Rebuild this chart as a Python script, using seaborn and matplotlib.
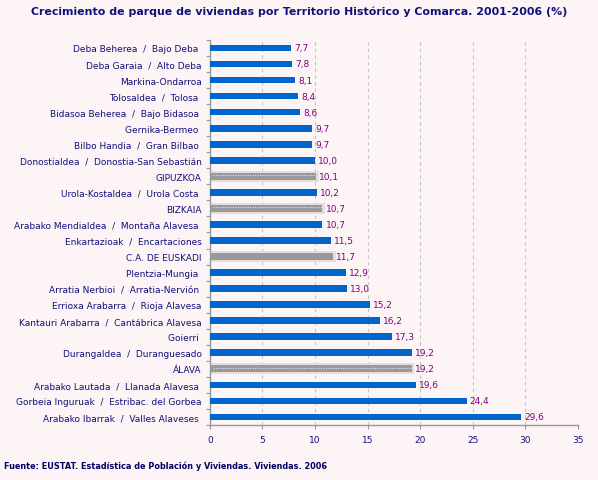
import numpy as np
import pandas as pd
import matplotlib
matplotlib.use('Agg')
import matplotlib.pyplot as plt
import seaborn as sns

# Data (top to bottom as in the chart)
labels = [
    'Deba Beherea  /  Bajo Deba ', 'Deba Garaia  /  Alto Deba', 'Markina-Ondarroa',
    'Tolosaldea  /  Tolosa ', 'Bidasoa Beherea  /  Bajo Bidasoa ', 'Gernika-Bermeo ',
    'Bilbo Handia  /  Gran Bilbao ', 'Donostialdea  /  Donostia-San Sebastián', 'GIPUZKOA',
    'Urola-Kostaldea  /  Urola Costa ', 'BIZKAIA', 'Arabako Mendialdea  /  Montaña Alavesa ',
    'Enkartazioak  /  Encartaciones', 'C.A. DE EUSKADI', 'Plentzia-Mungia ',
    'Arratia Nerbioi  /  Arratia-Nervión ', 'Errioxa Arabarra  /  Rioja Alavesa',
    'Kantauri Arabarra  /  Cantábrica Alavesa', 'Goierri ', 'Durangaldea  /  Duranguesado',
    'ÁLAVA', 'Arabako Lautada  /  Llanada Alavesa ', 'Gorbeia Inguruak  /  Estribac. del Gorbea',
    'Arabako Ibarrak  /  Valles Alaveses ',
]
values = [7.7, 7.8, 8.1, 8.4, 8.6, 9.7, 9.7, 10.0, 10.1, 10.2, 10.7, 10.7, 11.5, 11.7,
          12.9, 13.0, 15.2, 16.2, 17.3, 19.2, 19.2, 19.6, 24.4, 29.6]
territorios = ['GIPUZKOA', 'BIZKAIA', 'ÁLAVA']
total = ['C.A. DE EUSKADI']
x_ticks = [0, 5, 10, 15, 20, 25, 30, 35]

df = pd.DataFrame({'label': labels, 'value': values})
df['kind'] = np.where(df['label'].isin(territorios + total), 'total', 'comarca')
df['halo'] = np.where(df['kind'] == 'total', df['value'] + 0.25, np.nan)

navy = '#10107a'
purple = '#800080'
bg = '#fdf5f5'

fig = plt.figure(figsize=(5.98, 4.81), dpi=100, facecolor=bg)
ax = fig.add_axes([0.351, 0.1143, 0.6156, 0.8007])
ax.set_facecolor(bg)

# light halo behind gray summary bars
sns.barplot(data=df, x='halo', y='label', color='#e2dede', width=0.68, ax=ax,
            orient='h', saturation=1, zorder=2)
sns.barplot(data=df, x='value', y='label', hue='kind', dodge=False, width=0.42,
            palette={'comarca': '#0066cc', 'total': '#999999'}, ax=ax,
            orient='h', legend=False, saturation=1, zorder=3)

# dotted line inside the territorial bars
for i, (lab, v) in enumerate(zip(labels, values)):
    if lab in territorios:
        ax.hlines(i - 0.08, 0.3, v, colors='#e4e4e4', linestyles=(0, (1, 1.2)), lw=0.8, zorder=4)
    ax.text(v + 0.3, i, f'{v:.1f}'.replace('.', ','), va='center', ha='left',
            fontsize=6.5, color=purple, zorder=5)

ax.set_xlim(0, 35)
ax.set_ylim(len(labels) - 0.5, -0.5)
ax.set_xticks(x_ticks)
ax.set_xticklabels([str(t) for t in x_ticks])
ax.set_xlabel('')
ax.set_ylabel('')
ax.xaxis.grid(True, linestyle=(0, (3, 3)), color='#c4c4c4', lw=0.8, zorder=0)
ax.set_axisbelow(True)

ax.set_yticks(np.arange(len(labels)))
ax.set_yticklabels(labels)
ax.set_yticks(np.arange(len(labels) + 1) - 0.5, minor=True)
ax.tick_params(axis='y', which='major', length=0, pad=6, labelsize=6.5, labelcolor=navy)
ax.tick_params(axis='y', which='minor', length=3, color='#999999', width=0.8)
ax.tick_params(axis='x', length=3, color='#999999', labelsize=6.5, labelcolor=navy, pad=4)

for s in ['top', 'right']:
    ax.spines[s].set_visible(False)
for s in ['left', 'bottom']:
    ax.spines[s].set_color('#999999')
    ax.spines[s].set_linewidth(1.0)

fig.text(0.5, 0.975, 'Crecimiento de parque de viviendas por Territorio Histórico y Comarca. 2001-2006 (%)',
         ha='center', va='center', fontsize=7.9, fontweight='bold', color=navy)
fig.text(0.007, 0.031, 'Fuente: EUSTAT. Estadística de Población y Viviendas. Viviendas. 2006',
         ha='left', va='center', fontsize=5.9, fontweight='heavy', color='#000066')

fig.savefig('out.png', dpi=100, facecolor=bg)
